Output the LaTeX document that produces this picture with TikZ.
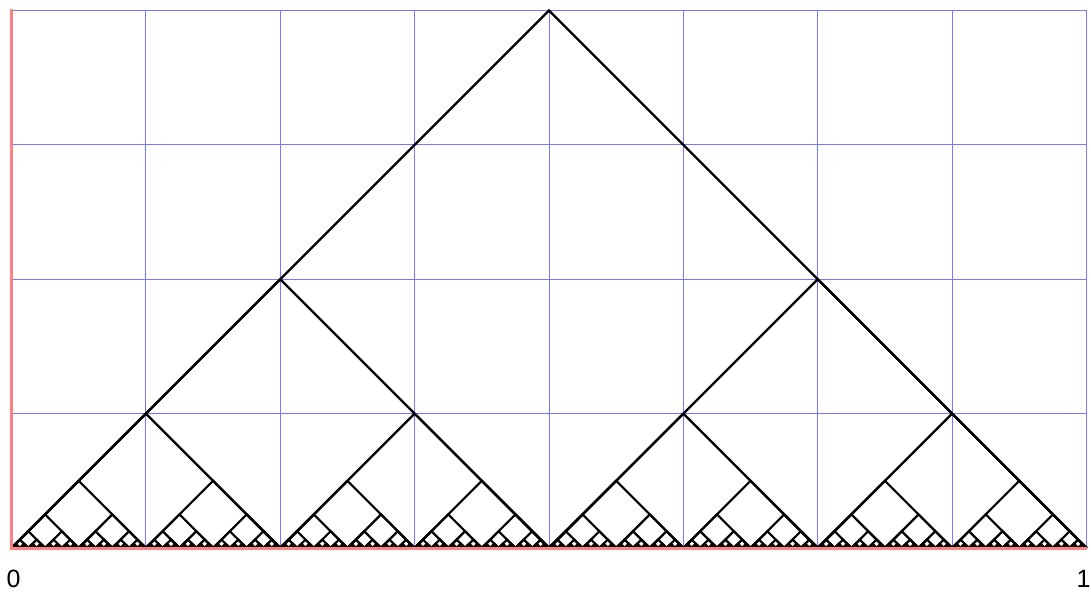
\documentclass[tikz,border=0pt]{standalone}
\usepackage{fontspec}
\setmainfont{Liberation Sans}
\definecolor{gridblue}{RGB}{120,120,255}
\definecolor{axispink}{RGB}{255,128,128}
\tikzset{
  gridline/.style={draw=gridblue,line width=0.9pt},
  axisline/.style={draw=axispink,line width=3pt},
  tent/.style={draw=black,line width=2.2pt},
  ticklabel/.style={font=\fontsize{25}{25}\selectfont,inner sep=0pt}
}
\begin{document}
\begin{tikzpicture}[x=1pt,y=-1pt]
\useasboundingbox (0,0) rectangle (1091,591);
% grid
\foreach \k in {1,...,8} {
  \draw[gridline] ({11.5+\k*134.375},10.5) -- ({11.5+\k*134.375},548);
}
\foreach \k in {0,...,3} {
  \draw[gridline] (11.5,{10.5+\k*134.375}) -- (1086.5,{10.5+\k*134.375});
}
% tents
\foreach \k in {0,...,8} {
  \pgfmathtruncatemacro\n{2^\k-1}
  \pgfmathsetmacro\w{1075/2^\k}
  \foreach \i in {0,...,\n} {
    \draw[tent] ({11.5+\i*\w},548) -- ({11.5+(\i+0.5)*\w},{548-\w/2}) -- ({11.5+(\i+1)*\w},548);
  }
}
% axes
\draw[axisline] (11.5,9) -- (11.5,550);
\draw[axisline] (10,548.5) -- (1087,548.5);
% labels
\node[ticklabel,anchor=base west] (zero) at (6.5,587) {0};
\node[ticklabel,anchor=base west] (one) at (1076.5,587) {1};
\end{tikzpicture}
\end{document}
